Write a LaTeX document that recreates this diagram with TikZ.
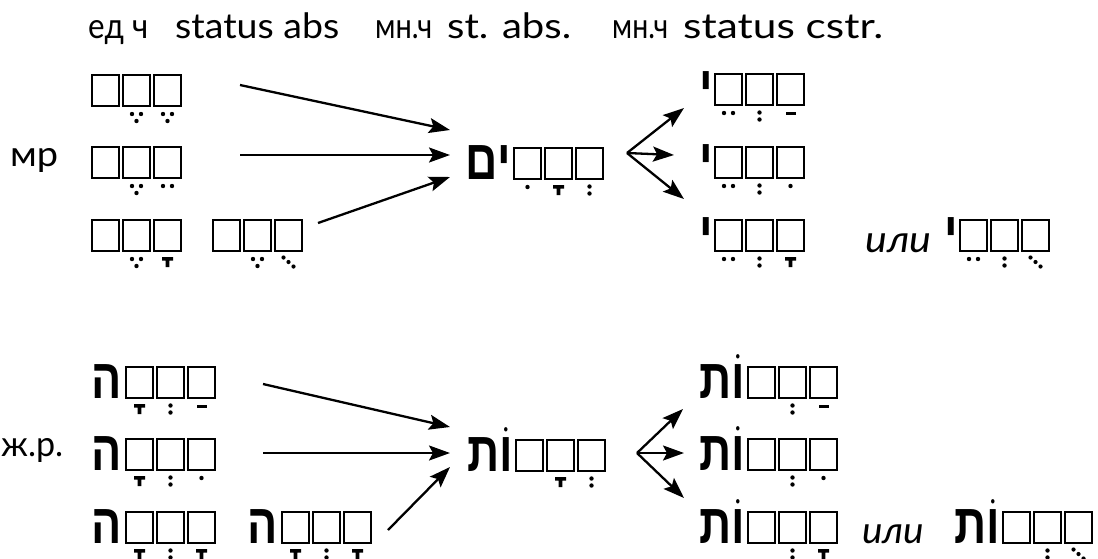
\documentclass[tikz,border=0pt]{standalone}
\usepackage{fontspec}
\usepackage{graphicx}
\setmainfont{Lato}
\newfontfamily\heb[Script=Hebrew]{Liberation Sans}
\TeXXeTstate=1
\usetikzlibrary{arrows.meta}
\newcommand\fw[2]{\resizebox{#1}{\height}{#2}}
\newcommand\hx[1]{\scalebox{0.8}[1]{#1}}
% vowel signs: #1 = centre x, #2 = y of box bottom
\newcommand\Vno[2]{}
\newcommand\Vhi[2]{\fill ({#1},{#2+8}) circle[radius=2.2];}
\newcommand\Vts[2]{\fill ({#1-4.5},{#2+8}) circle[radius=2.2] ({#1+4.5},{#2+8}) circle[radius=2.2];}
\newcommand\Vse[2]{\Vts{#1}{#2}\fill ({#1},{#2+15}) circle[radius=2.2];}
\newcommand\Vsh[2]{\fill ({#1},{#2+7.5}) circle[radius=2.2] ({#1},{#2+14.5}) circle[radius=2.2];}
\newcommand\Vpa[2]{\fill ({#1-5},{#2+7}) rectangle ({#1+5},{#2+10});}
\newcommand\Vqa[2]{\fill ({#1-5.5},{#2+6}) rectangle ({#1+5.5},{#2+9.5}) ({#1-1.8},{#2+9}) rectangle ({#1+1.8},{#2+16});}
\newcommand\Vqu[2]{\fill ({#1-5},{#2+6.5}) circle[radius=2.1] ({#1},{#2+11}) circle[radius=2.1] ({#1+5},{#2+15.5}) circle[radius=2.1];}
% three placeholder boxes: #1 name, #2 x, #3 y, #4-#6 vowel signs (left to right)
\newcommand\word[6]{%
  \foreach \i in {0,1,2} {\draw[boxst] ({#2+31*\i},{#3}) rectangle ++(27,31);}
  #4{#2+13.5}{#3+31}
  #5{#2+44.5}{#3+31}
  #6{#2+75.5}{#3+31}
  \coordinate (#1) at (#2,#3);
}
\begin{document}
\begin{tikzpicture}[x=1pt,y=-1pt,
  lbl/.style={inner sep=0pt, anchor=base west, font=\fontsize{35}{37}\selectfont},
  ili/.style={inner sep=0pt, anchor=base west, font=\itshape\fontsize{37}{37}\selectfont},
  hb/.style={inner sep=0pt, anchor=base east, font=\heb\bfseries\fontsize{56}{56}\selectfont},
  boxst/.style={line width=1.5pt},
  arr/.style={line width=2.3pt, -{Stealth[length=21pt,width=15pt,inset=4pt]}}]
\useasboundingbox (0,0) rectangle (1098,558);
% headers
\node[lbl] (h1) at (88,38) {\fw{60pt}{ед ч}};
\node[lbl] (h2) at (175,38) {\fw{164pt}{status abs}};
\node[lbl] (h3) at (375,38) {\fw{57pt}{мн.ч}};
\node[lbl] (h4) at (447,38) {\fw{124pt}{st. abs.}};
\node[lbl] (h5) at (612,38) {\fw{56pt}{мн.ч}};
\node[lbl] (h6) at (683,38) {\fw{200pt}{status cstr.}};
% side labels
\node[lbl] (m) at (10,166) {\fw{48pt}{мр}};
\node[lbl] (f) at (1,456) {\fw{62pt}{ж.р.}};
% masculine singular
\word{ms1}{92}{75}{\Vno}{\Vse}{\Vse}
\word{ms2}{92}{147}{\Vno}{\Vse}{\Vts}
\word{ms3}{92}{220}{\Vno}{\Vse}{\Vqa}
\word{ms4}{213}{220}{\Vno}{\Vse}{\Vqu}
% masculine plural absolute
\word{mp}{514}{148}{\Vhi}{\Vqa}{\Vsh}
\node[hb] (im) at (511,179) {\hx{\beginR ים\endR}};
% masculine plural construct
\word{mc1}{715}{74}{\Vts}{\Vsh}{\Vpa}
\word{mc2}{715}{147}{\Vts}{\Vsh}{\Vhi}
\word{mc3}{715}{220}{\Vts}{\Vsh}{\Vqa}
\word{mc4}{960}{220}{\Vts}{\Vsh}{\Vqu}
\node[hb] (y1) at (713,105) {\hx{י}};
\node[hb] (y2) at (713,178) {\hx{י}};
\node[hb] (y3) at (713,251) {\hx{י}};
\node[hb] (y4) at (958,251) {\hx{י}};
\node[ili] (ili1) at (865,252) {\fw{66pt}{или}};
% feminine singular
\word{fs1}{126}{367}{\Vqa}{\Vsh}{\Vpa}
\word{fs2}{126}{439}{\Vqa}{\Vsh}{\Vhi}
\word{fs3}{126}{512}{\Vqa}{\Vsh}{\Vqa}
\word{fs4}{282}{512}{\Vqa}{\Vsh}{\Vqa}
\node[hb] (he1) at (122,398) {\hx{ה}};
\node[hb] (he2) at (122,470) {\hx{ה}};
\node[hb] (he3) at (122,543) {\hx{ה}};
\node[hb] (he4) at (278,543) {\hx{ה}};
% feminine plural absolute
\word{fp}{516}{440}{\Vno}{\Vqa}{\Vsh}
\node[hb] (ot) at (513,471) {\hx{\beginR וֹת\endR}};
% feminine plural construct
\word{fc1}{748}{367}{\Vno}{\Vsh}{\Vpa}
\word{fc2}{748}{439}{\Vno}{\Vsh}{\Vhi}
\word{fc3}{748}{512}{\Vno}{\Vsh}{\Vqa}
\word{fc4}{1003}{512}{\Vno}{\Vsh}{\Vqu}
\node[hb] (ot1) at (745,398) {\hx{\beginR וֹת\endR}};
\node[hb] (ot2) at (745,470) {\hx{\beginR וֹת\endR}};
\node[hb] (ot3) at (745,543) {\hx{\beginR וֹת\endR}};
\node[hb] (ot4) at (1000,543) {\hx{\beginR וֹת\endR}};
\node[ili] (ili2) at (862,543) {\fw{62pt}{или}};
% arrow end points
\coordinate (a1) at (240,85);  \coordinate (b1) at (450,130);
\coordinate (a2) at (240,155); \coordinate (b2) at (450,155);
\coordinate (a3) at (318,223); \coordinate (b3) at (450,177);
\coordinate (c0) at (627,153);
\coordinate (d1) at (684,108); \coordinate (d2) at (674,155); \coordinate (d3) at (684,199);
\coordinate (a4) at (263,384); \coordinate (b4) at (450,427);
\coordinate (a5) at (263,453); \coordinate (b5) at (450,453);
\coordinate (a6) at (388,530); \coordinate (b6) at (450,467);
\coordinate (c1) at (637,453);
\coordinate (e1) at (683,409); \coordinate (e2) at (684,453); \coordinate (e3) at (684,498);
\draw[arr] (a1) -- (b1);
\draw[arr] (a2) -- (b2);
\draw[arr] (a3) -- (b3);
\draw[arr] (c0) -- (d1);
\draw[arr] (c0) -- (d2);
\draw[arr] (c0) -- (d3);
\draw[arr] (a4) -- (b4);
\draw[arr] (a5) -- (b5);
\draw[arr] (a6) -- (b6);
\draw[arr] (c1) -- (e1);
\draw[arr] (c1) -- (e2);
\draw[arr] (c1) -- (e3);
\end{tikzpicture}
\end{document}
